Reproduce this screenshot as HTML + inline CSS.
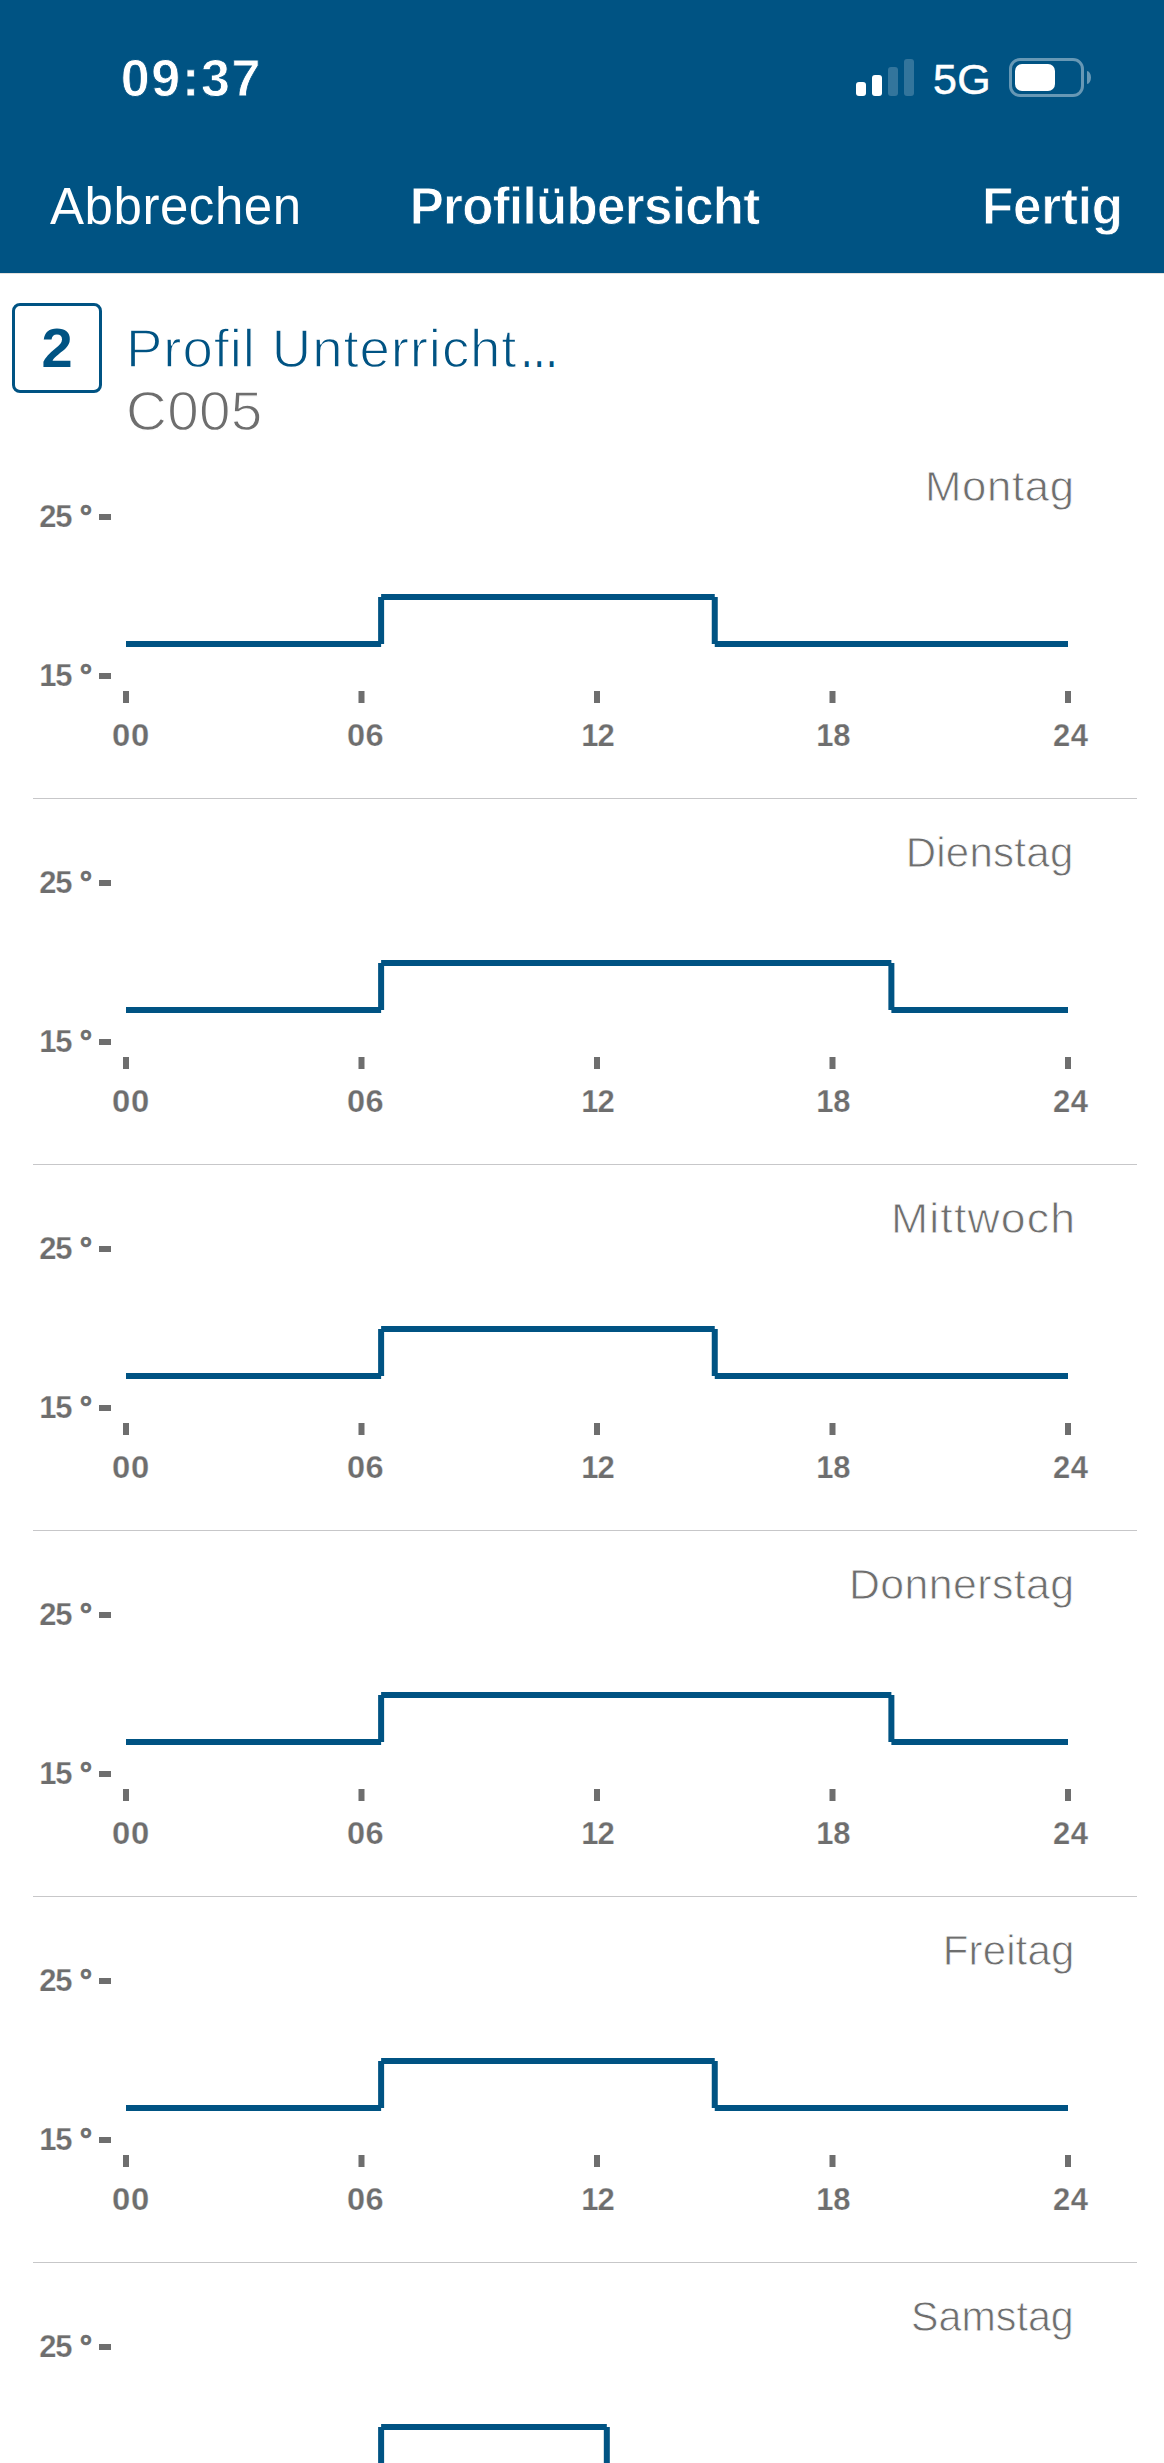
<!DOCTYPE html>
<html lang="de">
<head>
<meta charset="utf-8">
<title>Profilübersicht</title>
<style>
html,body{margin:0;padding:0;background:#fff;}
body{width:1164px;height:2463px;position:relative;overflow:hidden;font-family:"Liberation Sans",sans-serif;}
.hdr{position:absolute;left:0;top:0;width:1164px;height:273px;background:#005383;border-bottom:1px solid #e3e0dd;}
.t{position:absolute;white-space:nowrap;line-height:1;margin:0;}
.time{left:120.7px;top:51.5px;font-size:52px;font-weight:bold;color:#fff;letter-spacing:1.7px;-webkit-text-stroke:0.8px #005383;}
.fiveg{left:933px;top:58px;font-size:43px;color:#fff;letter-spacing:0.3px;-webkit-text-stroke:0.5px #fff;}
.cancel{left:50px;top:181px;font-size:51px;color:#fff;letter-spacing:0.55px;}
.title{left:409.7px;top:181px;font-size:51px;font-weight:bold;color:#fff;letter-spacing:-0.66px;-webkit-text-stroke:0.8px #005383;}
.done{left:982px;top:181px;font-size:51px;font-weight:bold;color:#fff;letter-spacing:-0.14px;-webkit-text-stroke:0.8px #005383;}
.bar{position:absolute;width:10px;border-radius:3px;background:#fff;}
.bar.dim{background:#33759c;}
.batt{position:absolute;left:1009px;top:58px;width:69px;height:33px;border:3px solid #6798b5;border-radius:11px;}
.battfill{position:absolute;left:1015px;top:64px;width:40px;height:27px;border-radius:7px;background:#fff;}
.battnub{position:absolute;left:1087px;top:71px;width:4px;height:13px;border-radius:0 4px 4px 0 / 0 6.5px 6.5px 0;background:#6798b5;}
.box{position:absolute;left:12px;top:303px;width:84px;height:84px;border:3px solid #005383;border-radius:8px;}
.boxnum{left:12px;width:90px;text-align:center;top:319.8px;font-size:56px;font-weight:bold;color:#005383;}
.pname{left:126.3px;top:321.7px;font-size:53px;color:#005383;letter-spacing:0.87px;-webkit-text-stroke:1.3px #fff;transform:scaleX(1.03);transform-origin:0 0;}
.pname span{display:inline-block;transform:scaleX(.72);transform-origin:0 50%;letter-spacing:0;margin-left:2px;-webkit-text-stroke:0;}
.pcode{left:125.9px;top:384px;font-size:55px;color:#6e6e6e;letter-spacing:0.29px;-webkit-text-stroke:1.3px #fff;transform:scaleX(1.03);transform-origin:0 0;}
.day{font-size:42px;color:#6e6e6e;-webkit-text-stroke:0.8px #fff;transform-origin:0 0;}
.yl{left:39.3px;font-size:31px;font-weight:bold;color:#6e6e6e;letter-spacing:-1.2px;word-spacing:1px;-webkit-text-stroke:0.25px #fff;}
.yl b{-webkit-text-stroke:0.7px #6e6e6e;letter-spacing:0;}
.xl{font-size:31px;font-weight:bold;color:#6e6e6e;transform-origin:0 0;-webkit-text-stroke:0.25px #fff;}
.sep{position:absolute;left:33px;width:1104px;height:1px;background:#c7c7c9;}
svg{position:absolute;left:0;top:0;}
</style>
</head>
<body>
<div class="hdr"></div>
<div class="t time">09:37</div>
<div class="bar" style="left:856px;top:82px;height:14px"></div>
<div class="bar" style="left:872px;top:75px;height:21px"></div>
<div class="bar dim" style="left:888px;top:67px;height:29px"></div>
<div class="bar dim" style="left:904px;top:59px;height:37px"></div>
<div class="t fiveg">5G</div>
<div class="batt"></div><div class="battfill"></div><div class="battnub"></div>
<div class="t cancel">Abbrechen</div>
<div class="t title">Profilübersicht</div>
<div class="t done">Fertig</div>
<div class="box"></div>
<div class="t boxnum">2</div>
<div class="t pname">Profil Unterricht<span>…</span></div>
<div class="t pcode">C005</div>

<div class="t day" style="left:925.0px;top:466.3px;letter-spacing:0.63px;transform:scaleX(1.04)">Montag</div>
<div class="t yl" style="top:501.3px">25 <b>°</b></div>
<div class="t yl" style="top:660.3px">15 <b>°</b></div>
<div class="t xl" style="left:111.5px;top:720.1px;letter-spacing:0.57px;transform:scaleX(1.06)">00</div>
<div class="t xl" style="left:346.7px;top:720.1px;letter-spacing:0.29px;transform:scaleX(1.05)">06</div>
<div class="t xl" style="left:581.2px;top:720.1px;letter-spacing:-0.9px;transform:scaleX(1.0)">12</div>
<div class="t xl" style="left:816.3px;top:720.1px;letter-spacing:-0.3px;transform:scaleX(1.0)">18</div>
<div class="t xl" style="left:1053.0px;top:720.1px;letter-spacing:0.6px;transform:scaleX(1.0)">24</div>
<div class="sep" style="top:798px"></div>
<div class="t day" style="left:905.7px;top:832.3px;letter-spacing:0.26px;transform:scaleX(1.0)">Dienstag</div>
<div class="t yl" style="top:867.3px">25 <b>°</b></div>
<div class="t yl" style="top:1026.3px">15 <b>°</b></div>
<div class="t xl" style="left:111.5px;top:1086.1px;letter-spacing:0.57px;transform:scaleX(1.06)">00</div>
<div class="t xl" style="left:346.7px;top:1086.1px;letter-spacing:0.29px;transform:scaleX(1.05)">06</div>
<div class="t xl" style="left:581.2px;top:1086.1px;letter-spacing:-0.9px;transform:scaleX(1.0)">12</div>
<div class="t xl" style="left:816.3px;top:1086.1px;letter-spacing:-0.3px;transform:scaleX(1.0)">18</div>
<div class="t xl" style="left:1053.0px;top:1086.1px;letter-spacing:0.6px;transform:scaleX(1.0)">24</div>
<div class="sep" style="top:1164px"></div>
<div class="t day" style="left:890.6px;top:1198.3px;letter-spacing:1.12px;transform:scaleX(1.06)">Mittwoch</div>
<div class="t yl" style="top:1233.3px">25 <b>°</b></div>
<div class="t yl" style="top:1392.3px">15 <b>°</b></div>
<div class="t xl" style="left:111.5px;top:1452.1px;letter-spacing:0.57px;transform:scaleX(1.06)">00</div>
<div class="t xl" style="left:346.7px;top:1452.1px;letter-spacing:0.29px;transform:scaleX(1.05)">06</div>
<div class="t xl" style="left:581.2px;top:1452.1px;letter-spacing:-0.9px;transform:scaleX(1.0)">12</div>
<div class="t xl" style="left:816.3px;top:1452.1px;letter-spacing:-0.3px;transform:scaleX(1.0)">18</div>
<div class="t xl" style="left:1053.0px;top:1452.1px;letter-spacing:0.6px;transform:scaleX(1.0)">24</div>
<div class="sep" style="top:1530px"></div>
<div class="t day" style="left:848.8px;top:1564.3px;letter-spacing:0.4px;transform:scaleX(1.02)">Donnerstag</div>
<div class="t yl" style="top:1599.3px">25 <b>°</b></div>
<div class="t yl" style="top:1758.3px">15 <b>°</b></div>
<div class="t xl" style="left:111.5px;top:1818.1px;letter-spacing:0.57px;transform:scaleX(1.06)">00</div>
<div class="t xl" style="left:346.7px;top:1818.1px;letter-spacing:0.29px;transform:scaleX(1.05)">06</div>
<div class="t xl" style="left:581.2px;top:1818.1px;letter-spacing:-0.9px;transform:scaleX(1.0)">12</div>
<div class="t xl" style="left:816.3px;top:1818.1px;letter-spacing:-0.3px;transform:scaleX(1.0)">18</div>
<div class="t xl" style="left:1053.0px;top:1818.1px;letter-spacing:0.6px;transform:scaleX(1.0)">24</div>
<div class="sep" style="top:1896px"></div>
<div class="t day" style="left:942.8px;top:1930.3px;letter-spacing:0.12px;transform:scaleX(1.0)">Freitag</div>
<div class="t yl" style="top:1965.3px">25 <b>°</b></div>
<div class="t yl" style="top:2124.3px">15 <b>°</b></div>
<div class="t xl" style="left:111.5px;top:2184.1px;letter-spacing:0.57px;transform:scaleX(1.06)">00</div>
<div class="t xl" style="left:346.7px;top:2184.1px;letter-spacing:0.29px;transform:scaleX(1.05)">06</div>
<div class="t xl" style="left:581.2px;top:2184.1px;letter-spacing:-0.9px;transform:scaleX(1.0)">12</div>
<div class="t xl" style="left:816.3px;top:2184.1px;letter-spacing:-0.3px;transform:scaleX(1.0)">18</div>
<div class="t xl" style="left:1053.0px;top:2184.1px;letter-spacing:0.6px;transform:scaleX(1.0)">24</div>
<div class="sep" style="top:2262px"></div>
<div class="t day" style="left:911.2px;top:2296.3px;letter-spacing:0.05px;transform:scaleX(0.98)">Samstag</div>
<div class="t yl" style="top:2331.3px">25 <b>°</b></div>
<div class="t yl" style="top:2490.3px">15 <b>°</b></div>
<div class="t xl" style="left:111.5px;top:2550.1px;letter-spacing:0.57px;transform:scaleX(1.06)">00</div>
<div class="t xl" style="left:346.7px;top:2550.1px;letter-spacing:0.29px;transform:scaleX(1.05)">06</div>
<div class="t xl" style="left:581.2px;top:2550.1px;letter-spacing:-0.9px;transform:scaleX(1.0)">12</div>
<div class="t xl" style="left:816.3px;top:2550.1px;letter-spacing:-0.3px;transform:scaleX(1.0)">18</div>
<div class="t xl" style="left:1053.0px;top:2550.1px;letter-spacing:0.6px;transform:scaleX(1.0)">24</div>
<div class="sep" style="top:2628px"></div>
<svg width="1164" height="2463" viewBox="0 0 1164 2463">
<g stroke="#005383" stroke-width="6" fill="none">
<path d="M126 644H381.12M381.12 644V597M381.12 597H714.75M714.75 597V644M714.75 644H1068"/>
</g>
<g fill="#6e6e6e">
<rect x="99" y="514" width="12" height="6"/>
<rect x="99" y="673" width="12" height="6"/>
<rect x="123.00" y="691" width="6" height="12"/>
<rect x="358.50" y="691" width="6" height="12"/>
<rect x="594.00" y="691" width="6" height="12"/>
<rect x="829.50" y="691" width="6" height="12"/>
<rect x="1065.00" y="691" width="6" height="12"/>
</g>
<g stroke="#005383" stroke-width="6" fill="none">
<path d="M126 1010H381.12M381.12 1010V963M381.12 963H891.38M891.38 963V1010M891.38 1010H1068"/>
</g>
<g fill="#6e6e6e">
<rect x="99" y="880" width="12" height="6"/>
<rect x="99" y="1039" width="12" height="6"/>
<rect x="123.00" y="1057" width="6" height="12"/>
<rect x="358.50" y="1057" width="6" height="12"/>
<rect x="594.00" y="1057" width="6" height="12"/>
<rect x="829.50" y="1057" width="6" height="12"/>
<rect x="1065.00" y="1057" width="6" height="12"/>
</g>
<g stroke="#005383" stroke-width="6" fill="none">
<path d="M126 1376H381.12M381.12 1376V1329M381.12 1329H714.75M714.75 1329V1376M714.75 1376H1068"/>
</g>
<g fill="#6e6e6e">
<rect x="99" y="1246" width="12" height="6"/>
<rect x="99" y="1405" width="12" height="6"/>
<rect x="123.00" y="1423" width="6" height="12"/>
<rect x="358.50" y="1423" width="6" height="12"/>
<rect x="594.00" y="1423" width="6" height="12"/>
<rect x="829.50" y="1423" width="6" height="12"/>
<rect x="1065.00" y="1423" width="6" height="12"/>
</g>
<g stroke="#005383" stroke-width="6" fill="none">
<path d="M126 1742H381.12M381.12 1742V1695M381.12 1695H891.38M891.38 1695V1742M891.38 1742H1068"/>
</g>
<g fill="#6e6e6e">
<rect x="99" y="1612" width="12" height="6"/>
<rect x="99" y="1771" width="12" height="6"/>
<rect x="123.00" y="1789" width="6" height="12"/>
<rect x="358.50" y="1789" width="6" height="12"/>
<rect x="594.00" y="1789" width="6" height="12"/>
<rect x="829.50" y="1789" width="6" height="12"/>
<rect x="1065.00" y="1789" width="6" height="12"/>
</g>
<g stroke="#005383" stroke-width="6" fill="none">
<path d="M126 2108H381.12M381.12 2108V2061M381.12 2061H714.75M714.75 2061V2108M714.75 2108H1068"/>
</g>
<g fill="#6e6e6e">
<rect x="99" y="1978" width="12" height="6"/>
<rect x="99" y="2137" width="12" height="6"/>
<rect x="123.00" y="2155" width="6" height="12"/>
<rect x="358.50" y="2155" width="6" height="12"/>
<rect x="594.00" y="2155" width="6" height="12"/>
<rect x="829.50" y="2155" width="6" height="12"/>
<rect x="1065.00" y="2155" width="6" height="12"/>
</g>
<g stroke="#005383" stroke-width="6" fill="none">
<path d="M126 2474H381.12M381.12 2474V2427M381.12 2427H606.81M606.81 2427V2474M606.81 2474H1068"/>
</g>
<g fill="#6e6e6e">
<rect x="99" y="2344" width="12" height="6"/>
<rect x="99" y="2503" width="12" height="6"/>
<rect x="123.00" y="2521" width="6" height="12"/>
<rect x="358.50" y="2521" width="6" height="12"/>
<rect x="594.00" y="2521" width="6" height="12"/>
<rect x="829.50" y="2521" width="6" height="12"/>
<rect x="1065.00" y="2521" width="6" height="12"/>
</g>
</svg>
</body>
</html>
